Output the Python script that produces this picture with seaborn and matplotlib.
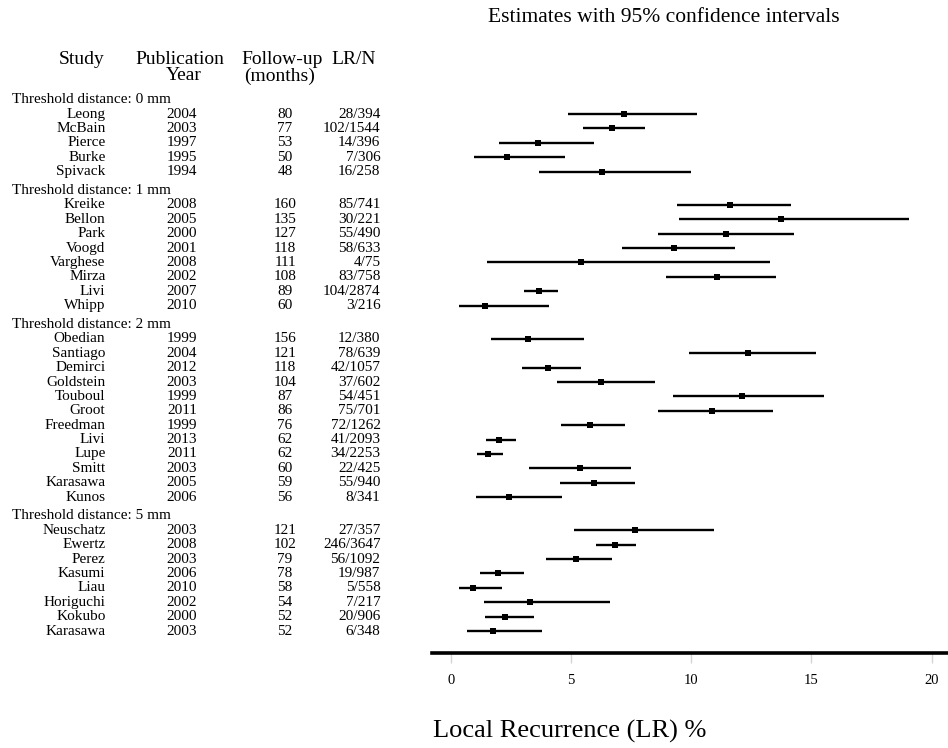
import numpy as np
import pandas as pd
import matplotlib
matplotlib.use("Agg")
import matplotlib.pyplot as plt
import matplotlib.transforms as mtransforms
import seaborn as sns

# data
group_names = ["Threshold distance: 0 mm", "Threshold distance: 1 mm",
               "Threshold distance: 2 mm", "Threshold distance: 5 mm"]
group_sizes = [5, 8, 12, 8]

study = ["Leong", "McBain", "Pierce", "Burke", "Spivack",
         "Kreike", "Bellon", "Park", "Voogd", "Varghese", "Mirza", "Livi", "Whipp",
         "Obedian", "Santiago", "Demirci", "Goldstein", "Touboul", "Groot", "Freedman",
         "Livi", "Lupe", "Smitt", "Karasawa", "Kunos",
         "Neuschatz", "Ewertz", "Perez", "Kasumi", "Liau", "Horiguchi", "Kokubo", "Karasawa"]
year = [2004, 2003, 1997, 1995, 1994,
        2008, 2005, 2000, 2001, 2008, 2002, 2007, 2010,
        1999, 2004, 2012, 2003, 1999, 2011, 1999, 2013, 2011, 2003, 2005, 2006,
        2003, 2008, 2003, 2006, 2010, 2002, 2000, 2003]
followup = [80, 77, 53, 50, 48,
            160, 135, 127, 118, 111, 108, 89, 60,
            156, 121, 118, 104, 87, 86, 76, 62, 62, 60, 59, 56,
            121, 102, 79, 78, 58, 54, 52, 52]
lr_n = ["28/394", "102/1544", "14/396", "7/306", "16/258",
        "85/741", "30/221", "55/490", "58/633", "4/75", "83/758", "104/2874", "3/216",
        "12/380", "78/639", "42/1057", "37/602", "54/451", "75/701", "72/1262",
        "41/2093", "34/2253", "22/425", "55/940", "8/341",
        "27/357", "246/3647", "56/1092", "19/987", "5/558", "7/217", "20/906", "6/348"]
est = [7.21, 6.70, 3.61, 2.34, 6.28,
       11.62, 13.73, 11.44, 9.28, 5.41, 11.08, 3.68, 1.43,
       3.22, 12.36, 4.02, 6.24, 12.12, 10.85, 5.80, 2.00, 1.55, 5.35, 5.94, 2.40,
       7.66, 6.82, 5.20, 1.97, 0.93, 3.27, 2.26, 1.75]
lo = [4.85, 5.51, 2.00, 0.94, 3.66,
      9.40, 9.49, 8.63, 7.13, 1.51, 8.96, 3.04, 0.33,
      1.68, 9.89, 2.94, 4.42, 9.25, 8.63, 4.56, 1.46, 1.08, 3.23, 4.52, 1.05,
      5.12, 6.05, 3.97, 1.22, 0.33, 1.36, 1.40, 0.67]
hi = [10.24, 8.06, 5.95, 4.73, 10.00,
      14.16, 19.04, 14.29, 11.83, 13.26, 13.54, 4.44, 4.06,
      5.53, 15.19, 5.41, 8.47, 15.52, 13.38, 7.23, 2.70, 2.15, 7.50, 7.64, 4.63,
      10.93, 7.71, 6.70, 3.02, 2.12, 6.62, 3.44, 3.77]
x_ticks = [0, 5, 10, 15, 20]

# row positions: header row then its studies, small gap before each new header
gap = 0.32
pos, head_pos = [], []
p = 0.0
for n in group_sizes:
    head_pos.append(p)
    pos += list(p + np.arange(1, n + 1))
    p = p + n + 1 + gap

df = pd.DataFrame({"study": study, "year": year, "followup": followup,
                   "lr_n": lr_n, "est": est, "lo": lo, "hi": hi, "pos": pos})

sns.set_theme(style="white")
plt.rcParams["font.family"] = ["Liberation Serif", "DejaVu Serif"]
plt.rcParams["text.color"] = "black"

W, H = 948, 748
fig = plt.figure(figsize=(W / 100, H / 100), dpi=100)
ax = fig.add_axes([432 / W, (H - 653) / H, 1 - 432 / W, (653 - 40) / H])

ax.hlines(df["pos"], df["lo"], df["hi"], color="black", lw=1.7, zorder=2)
sns.scatterplot(data=df, x="est", y="pos", marker="s", color="black",
                s=16, linewidth=0, zorder=3, ax=ax, legend=False)

ax.set_xlim(-0.79, 20.68)
ax.set_ylim(38.49, -4.15)
ax.set_yticks([])
ax.set_xticks(x_ticks)
ax.set_xticklabels([str(t) for t in x_ticks])
ax.set_xlabel("")
ax.set_ylabel("")
for s in ["left", "right", "top"]:
    ax.spines[s].set_visible(False)
ax.spines["bottom"].set_linewidth(2.6)
ax.spines["bottom"].set_color("black")
ax.tick_params(axis="x", direction="out", length=7, width=1, color="#d4d4d4",
               labelsize=10.5, pad=8, labelcolor="black", bottom=True)

# table on the left
tr = mtransforms.blended_transform_factory(fig.transFigure, ax.transData)
fs = 11
for name, hp in zip(group_names, head_pos):
    ax.text(12 / W, hp, name, transform=tr, ha="left", va="center", fontsize=fs, clip_on=False)
for _, r in df.iterrows():
    ax.text(105.5 / W, r.pos, r.study, transform=tr, ha="right", va="center", fontsize=fs, clip_on=False)
    ax.text(182 / W, r.pos, str(r.year), transform=tr, ha="center", va="center", fontsize=fs, clip_on=False)
    ax.text(285 / W, r.pos, str(r.followup), transform=tr, ha="center", va="center", fontsize=fs, clip_on=False)
    ax.text(380.5 / W, r.pos, r.lr_n, transform=tr, ha="right", va="center", fontsize=fs, clip_on=False)

hs = 14
fig.text(82 / W, 1 - 59 / H, "Study", ha="center", va="center", fontsize=hs)
fig.text(180 / W, 1 - 59 / H, "Publication", ha="center", va="center", fontsize=hs)
fig.text(184 / W, 1 - 76 / H, "Year", ha="center", va="center", fontsize=hs)
fig.text(282 / W, 1 - 59 / H, "Follow-up", ha="center", va="center", fontsize=hs)
fig.text(280 / W, 1 - 76 / H, "(months)", ha="center", va="center", fontsize=hs)
fig.text(354 / W, 1 - 59 / H, "LR/N", ha="center", va="center", fontsize=hs)

fig.text(664 / W, 1 - 17 / H, "Estimates with 95% confidence intervals",
         ha="center", va="center", fontsize=15.5)
fig.text(570 / W, 1 - 731 / H, "Local Recurrence (LR) %",
         ha="center", va="center", fontsize=19)

fig.savefig("out.png", dpi=100)
